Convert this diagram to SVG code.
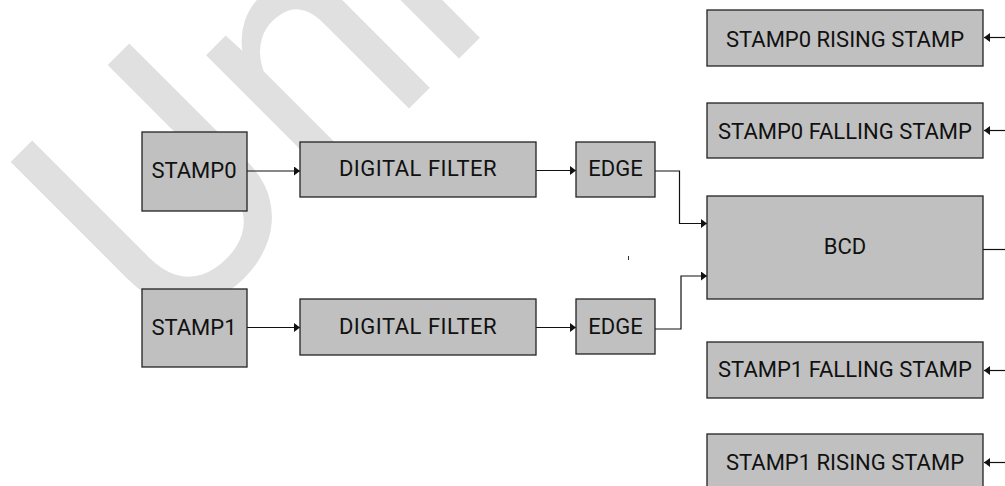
<svg xmlns="http://www.w3.org/2000/svg" width="1005" height="486" viewBox="0 0 1005 486">
<style>
.box{fill:#c0c0c0;stroke:#222;stroke-width:1.3}
.lbl{font-family:Roboto,"Liberation Sans",sans-serif;font-size:22px;fill:#111;text-anchor:middle}
.wide{letter-spacing:0.5px}
.wire{fill:none;stroke:#111;stroke-width:1.2}
.arr{marker-end:url(#ah)}
</style>
<defs>
<marker id="ah" markerUnits="userSpaceOnUse" markerWidth="7" markerHeight="10" refX="6" refY="4.5" orient="auto">
<path d="M0,0 L6,4.5 L0,9 z" fill="#111"/>
</marker>
</defs>
<rect width="1005" height="486" fill="#fff"/>
<g id="watermark">
<text transform="rotate(-45) scale(0.95,1)" y="366" font-family="Roboto,sans-serif" font-size="343" fill="#e0e0e0"><tspan x="-136.1">U</tspan><tspan x="88.6">n</tspan><tspan x="271.9">i</tspan></text>
</g>
<g id="connectors">
<path class="wire arr" d="M247,171 H300"/>
<path class="wire arr" d="M247,327.5 H300"/>
<path class="wire arr" d="M536,170.5 H576"/>
<path class="wire arr" d="M536,327.5 H576"/>
<path class="wire arr" d="M655,171 H679.5 V223.5 H707"/>
<path class="wire arr" d="M655,329 H681 V276 H707"/>
<path class="wire" d="M983,249.5 H1005"/>
<path class="wire arr" d="M1006,37.5 H984"/>
<path class="wire arr" d="M1006,130.5 H984"/>
<path class="wire arr" d="M1006,370.5 H984"/>
<path class="wire arr" d="M1006,462.5 H984"/>
<path d="M628.5,256 V260" stroke="#333" stroke-width="1"/>
</g>
<g id="stamp0"><rect class="box" x="142" y="132" width="105" height="79"/><text class="lbl" x="194" y="178">STAMP0</text></g>
<g id="stamp1"><rect class="box" x="142" y="289" width="105" height="78"/><text class="lbl" x="194" y="335">STAMP1</text></g>
<g id="filter0"><rect class="box" x="300" y="142" width="236" height="55"/><text class="lbl wide" x="418" y="176">DIGITAL FILTER</text></g>
<g id="filter1"><rect class="box" x="300" y="299" width="236" height="56"/><text class="lbl wide" x="418" y="333.5">DIGITAL FILTER</text></g>
<g id="edge0"><rect class="box" x="576" y="142" width="79" height="55"/><text class="lbl" x="615.5" y="176">EDGE</text></g>
<g id="edge1"><rect class="box" x="576" y="299" width="79" height="55"/><text class="lbl" x="615.5" y="333.5">EDGE</text></g>
<g id="bcd"><rect class="box" x="707" y="196" width="276" height="103"/><text class="lbl" x="845" y="254">BCD</text></g>
<g id="stamp0-rising"><rect class="box" x="707" y="10" width="276" height="56"/><text class="lbl" x="845" y="46.5">STAMP0 RISING STAMP</text></g>
<g id="stamp0-falling"><rect class="box" x="707" y="103" width="276" height="55"/><text class="lbl" x="845" y="139">STAMP0 FALLING STAMP</text></g>
<g id="stamp1-falling"><rect class="box" x="707" y="342" width="276" height="56"/><text class="lbl" x="845" y="377">STAMP1 FALLING STAMP</text></g>
<g id="stamp1-rising"><rect class="box" x="707" y="434" width="276" height="60"/><text class="lbl" x="845" y="469.5">STAMP1 RISING STAMP</text></g>
</svg>
